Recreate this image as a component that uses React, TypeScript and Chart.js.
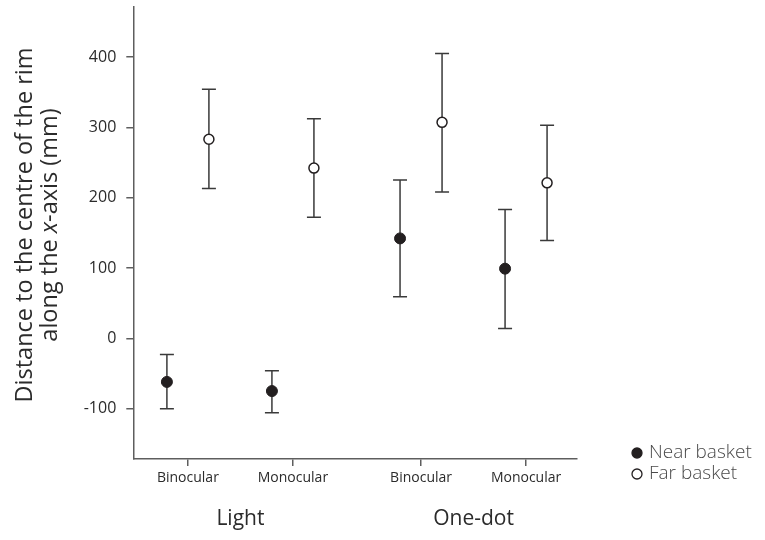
import { useEffect, useRef } from "react";
import { Chart, registerables } from "chart.js";

Chart.register(...registerables);

// ---- data ----
const conditions = ["Binocular", "Monocular", "Binocular", "Monocular"];
const conditionPositions = [1, 2, 3.22, 4.22];
const groups = ["Light", "One-dot"];
const groupPositions = [1.5, 3.72];
const seriesNames = ["Near basket", "Far basket"];
const seriesOffset = [-0.2, 0.2];

const nearMean = [-62, -75, 142, 99];
const nearUpper = [-23, -46, 225, 183];
const nearLower = [-100, -106, 59, 14];

const farMean = [283, 242, 307, 221];
const farUpper = [354, 312, 405, 303];
const farLower = [213, 172, 208, 139];

const yTickValues = [-100, 0, 100, 200, 300, 400];
const yTitleLine1 = "Distance to the centre of the rim";
const yTitleLine2 = ["along the ", "x", "-axis (mm)"];

const FONT = "'Open Sans', 'DejaVu Sans', sans-serif";
const INK = "#2b2b2b";
const AXIS = "#5e5e5e";

const errorBarPlugin = {
  id: "errorBars",
  beforeDatasetsDraw(chart: any) {
    const { ctx } = chart;
    const x = chart.scales.x;
    const y = chart.scales.y;
    ctx.save();
    ctx.strokeStyle = "#3a3a3a";
    ctx.lineWidth = 1.5;
    chart.data.datasets.forEach((ds: any) => {
      const eb = ds.errorBars;
      ds.data.forEach((pt: any, i: number) => {
        const px = x.getPixelForValue(pt.x);
        const top = y.getPixelForValue(eb.upper[i]);
        const bot = y.getPixelForValue(eb.lower[i]);
        ctx.beginPath();
        ctx.moveTo(px, top);
        ctx.lineTo(px, bot);
        ctx.moveTo(px - 7, top);
        ctx.lineTo(px + 7, top);
        ctx.moveTo(px - 7, bot);
        ctx.lineTo(px + 7, bot);
        ctx.stroke();
      });
    });
    ctx.restore();
  },
};

const yTitlePlugin = {
  id: "yTitle",
  afterDraw(chart: any) {
    const { ctx, chartArea } = chart;
    const cy = (chartArea.top + chartArea.bottom) / 2 - 8;
    ctx.save();
    ctx.translate(25, cy);
    ctx.rotate(-Math.PI / 2);
    ctx.fillStyle = INK;
    ctx.textBaseline = "middle";
    ctx.textAlign = "center";
    const normal = `23.5px ${FONT}`;
    const italic = `italic 23.5px ${FONT}`;
    ctx.font = normal;
    ctx.fillText(yTitleLine1, 0, 0);
    const fonts = [normal, italic, normal];
    let total = 0;
    const widths = yTitleLine2.map((t, i) => {
      ctx.font = fonts[i];
      const w = ctx.measureText(t).width;
      total += w;
      return w;
    });
    let sx = -total / 2;
    ctx.textAlign = "left";
    yTitleLine2.forEach((t, i) => {
      ctx.font = fonts[i];
      ctx.fillText(t, sx, 25);
      sx += widths[i];
    });
    ctx.restore();
  },
};

const legendPlugin = {
  id: "customLegend",
  afterDraw(chart: any) {
    const { ctx, chartArea } = chart;
    const lx = chartArea.right + 60;
    ctx.save();
    chart.data.datasets.forEach((ds: any, i: number) => {
      const ly = chartArea.bottom - 6 + i * 21;
      ctx.beginPath();
      ctx.arc(lx, ly, 5, 0, Math.PI * 2);
      ctx.fillStyle = ds.backgroundColor;
      ctx.fill();
      ctx.lineWidth = 1.3;
      ctx.strokeStyle = ds.borderColor;
      ctx.stroke();
      ctx.fillStyle = "#4a4a4a";
      ctx.font = `300 19px ${FONT}`;
      ctx.textAlign = "left";
      ctx.textBaseline = "middle";
      ctx.fillText(ds.label, lx + 12, ly);
    });
    ctx.restore();
  },
};

export default function App() {
  const ref = useRef<HTMLCanvasElement | null>(null);

  useEffect(() => {
    if (!ref.current) return;
    Chart.defaults.font.family = FONT;
    const mk = (means: number[], off: number) =>
      means.map((v, i) => ({ x: conditionPositions[i] + off, y: v }));

    const chart = new Chart(ref.current, {
      type: "scatter",
      data: {
        datasets: [
          {
            label: seriesNames[0],
            data: mk(nearMean, seriesOffset[0]),
            backgroundColor: "#231f20",
            borderColor: "#231f20",
            borderWidth: 1,
            pointRadius: 5.5,
            errorBars: { upper: nearUpper, lower: nearLower },
          } as any,
          {
            label: seriesNames[1],
            data: mk(farMean, seriesOffset[1]),
            backgroundColor: "#ffffff",
            borderColor: "#231f20",
            borderWidth: 1.5,
            pointRadius: 5,
            errorBars: { upper: farUpper, lower: farLower },
          } as any,
        ],
      },
      options: {
        responsive: false,
        animation: false,
        events: [],
        layout: { padding: { left: 0, right: 188, top: 7, bottom: 1 } },
        plugins: {
          legend: { display: false },
          tooltip: { enabled: false },
        },
        scales: {
          x: {
            type: "linear",
            position: "bottom",
            min: 0.48,
            max: 4.705,
            afterBuildTicks: (s: any) => {
              s.ticks = conditionPositions.map((v) => ({ value: v }));
            },
            afterFit: (s: any) => {
              s.height = 40;
              s.paddingLeft = 0;
              s.paddingRight = 0;
            },
            ticks: {
              callback: (v: any) => {
                const i = conditionPositions.indexOf(Number(v));
                return i >= 0 ? conditions[i] : "";
              },
              font: { size: 14 },
              color: INK,
              padding: 4,
              maxRotation: 0,
              autoSkip: false,
            },
            grid: {
              drawOnChartArea: false,
              drawTicks: true,
              tickLength: 7,
              color: AXIS,
              lineWidth: 1.5,
            },
            border: { display: true, color: AXIS, width: 1.5 },
          },
          x2: {
            type: "linear",
            position: "bottom",
            min: 0.48,
            max: 4.705,
            afterBuildTicks: (s: any) => {
              s.ticks = groupPositions.map((v) => ({ value: v }));
            },
            afterFit: (s: any) => {
              s.height = 40;
              s.paddingLeft = 0;
              s.paddingRight = 0;
            },
            ticks: {
              callback: (v: any) => {
                const i = groupPositions.indexOf(Number(v));
                return i >= 0 ? groups[i] : "";
              },
              font: { size: 21 },
              color: INK,
              padding: 7,
              maxRotation: 0,
              autoSkip: false,
            },
            grid: { display: false, drawTicks: false },
            border: { display: false },
          },
          y: {
            type: "linear",
            min: -171.6,
            max: 471,
            afterBuildTicks: (s: any) => {
              s.ticks = yTickValues.map((v) => ({ value: v }));
            },
            afterFit: (s: any) => {
              s.width = 133.3;
              s.paddingTop = 0;
              s.paddingBottom = 0;
            },
            ticks: {
              callback: (v: any) => String(v),
              font: { size: 16 },
              color: INK,
              padding: 10,
            },
            grid: {
              drawOnChartArea: false,
              drawTicks: true,
              tickLength: 7,
              color: AXIS,
              lineWidth: 1.5,
            },
            border: { display: true, color: AXIS, width: 1.5 },
          },
        },
      },
      plugins: [errorBarPlugin, yTitlePlugin, legendPlugin],
    });
    return () => chart.destroy();
  }, []);

  return (
    <div style={{ position: "fixed", left: 0, top: 0, width: 765, height: 540, background: "#fff" }}>
      <canvas ref={ref} width={765} height={540} style={{ width: 765, height: 540, display: "block" }} />
    </div>
  );
}
